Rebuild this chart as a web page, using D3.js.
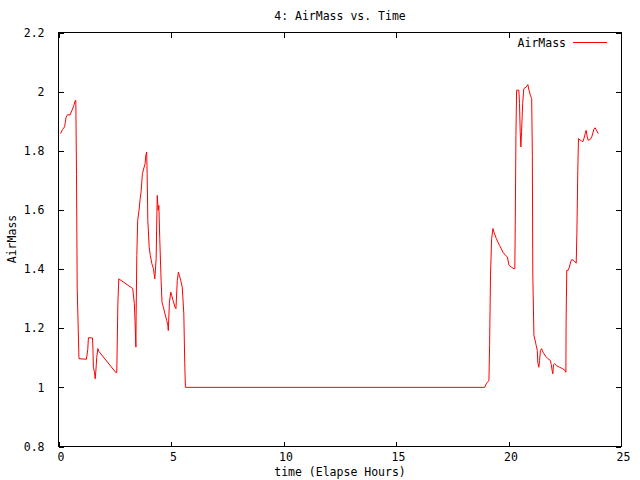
<!DOCTYPE html>
<html>
<head>
<meta charset="utf-8">
<script src="https://cdn.jsdelivr.net/npm/d3@7"></script>
<style>
  html, body { margin: 0; padding: 0; background: #fff; }
  text { font-family: "DejaVu Sans Mono", "Liberation Mono", monospace; font-size: 11.5px; fill: #000; }
</style>
</head>
<body>
<svg id="chart" width="640" height="480"></svg>
<script>
const title = "4: AirMass vs. Time";
const xLabel = "time (Elapse Hours)";
const yLabel = "AirMass";
const seriesName = "AirMass";
const xTicks = [0, 5, 10, 15, 20, 25];
const yTicks = [0.8, 1, 1.2, 1.4, 1.6, 1.8, 2, 2.2];

// time in elapsed hours
const timeHours = [
  0.09, 0.18, 0.27, 0.30, 0.34, 0.40, 0.51, 0.59, 0.68, 0.74, 0.77,
  0.80, 0.83, 0.91, 1.24, 1.30, 1.33, 1.51, 1.53, 1.55, 1.60, 1.63, 1.66, 1.70, 1.75, 1.79,
  2.56, 2.59, 2.64, 2.68, 3.30, 3.37, 3.40, 3.44, 3.45, 3.48, 3.52, 3.58, 3.63, 3.67, 3.73,
  3.85, 3.88, 3.92, 3.94, 3.97, 4.03, 4.08, 4.15, 4.22, 4.28, 4.34, 4.37, 4.39, 4.43, 4.46,
  4.50, 4.56, 4.60, 4.66, 4.73, 4.81, 4.86, 4.88, 4.93, 4.99, 5.03, 5.09, 5.18, 5.22, 5.28,
  5.33, 5.37, 5.43, 5.50, 5.57, 5.61, 5.64,
  18.94, 19.01, 19.09, 19.13, 19.16, 19.20, 19.25, 19.31, 19.35, 19.46, 19.53, 19.60, 19.68,
  19.75, 19.87, 19.95, 20.02, 20.12, 20.24, 20.28, 20.30, 20.33, 20.36, 20.46, 20.49, 20.52,
  20.55, 20.58, 20.63, 20.68, 20.79, 20.86, 20.91, 20.97, 21.03, 21.06, 21.08, 21.13, 21.20,
  21.23, 21.28, 21.30, 21.35, 21.38, 21.42, 21.47, 21.53, 21.65, 21.75, 21.86, 21.90, 21.94,
  21.97, 22.00, 22.05, 22.12, 22.27, 22.41, 22.52, 22.55, 22.56, 22.59, 22.65, 22.71, 22.76,
  22.81, 22.90, 22.96, 23.01, 23.04, 23.08, 23.11, 23.19, 23.25, 23.30, 23.35, 23.41, 23.45,
  23.50, 23.54, 23.63, 23.70, 23.75, 23.79, 23.85, 23.91, 23.99
];
const airMass = [
  1.858, 1.872, 1.881, 1.895, 1.914, 1.922, 1.921, 1.935, 1.953, 1.969, 1.971,
  1.720, 1.339, 1.097, 1.095, 1.128, 1.168, 1.167, 1.133, 1.068, 1.051, 1.029, 1.055, 1.102, 1.131, 1.122,
  1.049, 1.051, 1.288, 1.367, 1.334, 1.283, 1.226, 1.136, 1.243, 1.446, 1.565, 1.599, 1.638, 1.661, 1.723,
  1.757, 1.785, 1.796, 1.723, 1.565, 1.474, 1.446, 1.418, 1.401, 1.367, 1.435, 1.576, 1.649, 1.599, 1.615,
  1.503, 1.362, 1.288, 1.271, 1.249, 1.226, 1.209, 1.192, 1.288, 1.322, 1.311, 1.294, 1.271, 1.266, 1.362,
  1.390, 1.379, 1.362, 1.339, 1.249, 1.085, 1.000,
  1.000, 1.012, 1.020, 1.023, 1.142, 1.379, 1.503, 1.537, 1.525, 1.503, 1.491, 1.480, 1.469,
  1.457, 1.446, 1.441, 1.413, 1.407, 1.401, 1.401, 1.548, 1.852, 2.005, 2.005, 1.960, 1.864,
  1.813, 1.864, 1.960, 2.010, 2.016, 2.024, 2.005, 1.988, 1.977, 1.785, 1.379, 1.176, 1.153,
  1.142, 1.125, 1.085, 1.068, 1.091, 1.125, 1.131, 1.119, 1.105, 1.097, 1.091, 1.077, 1.057,
  1.046, 1.077, 1.080, 1.074, 1.068, 1.063, 1.057, 1.051, 1.221, 1.396, 1.396, 1.407, 1.424,
  1.432, 1.429, 1.424, 1.420, 1.525, 1.734, 1.841, 1.836, 1.834, 1.830, 1.841, 1.858, 1.869,
  1.847, 1.836, 1.838, 1.847, 1.860, 1.872, 1.878, 1.869, 1.858
];

const data = timeHours.map((t, i) => ({ t, v: airMass[i] }));

const svg = d3.select("#chart");
const L = 58.5, R = 621, T = 32.5, B = 446.5;

const x = d3.scaleLinear().domain([0, 25]).range([L, R]);
const y = d3.scaleLinear().domain([0.8, 2.2]).range([B, T]);

// frame
svg.append("rect")
  .attr("x", L).attr("y", T).attr("width", R - L).attr("height", B - T)
  .attr("fill", "none").attr("stroke", "#000").attr("stroke-width", 1)
  .attr("shape-rendering", "crispEdges");

const tickLen = 5;
// x ticks (bottom + mirrored top)
const xAxisB = d3.axisBottom(x).tickValues(xTicks).tickSize(-tickLen).tickPadding(12).tickFormat(d3.format("d"));
const gxb = svg.append("g").attr("transform", `translate(0,${B})`).call(xAxisB);
gxb.select(".domain").remove();
gxb.selectAll("line").attr("stroke", "#000").attr("shape-rendering", "crispEdges");
gxb.selectAll("text").attr("dx", 2).attr("dy", "0.2em").style("font-size", "11.5px").style("font-family", "DejaVu Sans Mono, monospace");

const xAxisT = d3.axisTop(x).tickValues(xTicks).tickSize(-tickLen).tickFormat("");
const gxt = svg.append("g").attr("transform", `translate(0,${T})`).call(xAxisT);
gxt.select(".domain").remove();
gxt.selectAll("line").attr("stroke", "#000").attr("shape-rendering", "crispEdges");

// y ticks (left + mirrored right)
const yAxisL = d3.axisLeft(y).tickValues(yTicks).tickSize(-tickLen).tickPadding(14).tickFormat(d => d3.format("")(+d.toFixed(1)));
const gyl = svg.append("g").attr("transform", `translate(${L},0)`).call(yAxisL);
gyl.select(".domain").remove();
gyl.selectAll("line").attr("stroke", "#000").attr("shape-rendering", "crispEdges");
gyl.selectAll("text").style("font-size", "11.5px").style("font-family", "DejaVu Sans Mono, monospace");

const yAxisR = d3.axisRight(y).tickValues(yTicks).tickSize(-tickLen).tickFormat("");
const gyr = svg.append("g").attr("transform", `translate(${R},0)`).call(yAxisR);
gyr.select(".domain").remove();
gyr.selectAll("line").attr("stroke", "#000").attr("shape-rendering", "crispEdges");

// line
const line = d3.line().x(d => x(d.t)).y(d => y(d.v));
svg.append("path").datum(data)
  .attr("d", line)
  .attr("fill", "none").attr("stroke", "#ff0000").attr("stroke-width", 1);

// title
svg.append("text").attr("x", 340).attr("y", 20).attr("text-anchor", "middle").text(title);
// x label
svg.append("text").attr("x", 340).attr("y", 476).attr("text-anchor", "middle").text(xLabel);
// y label
svg.append("text").attr("transform", "translate(16,239) rotate(-90)").attr("text-anchor", "middle").text(yLabel);

// legend
svg.append("text").attr("x", 566).attr("y", 47).attr("text-anchor", "end").text(seriesName);
svg.append("line").attr("x1", 573).attr("x2", 607).attr("y1", 42.5).attr("y2", 42.5)
  .attr("stroke", "#ff0000").attr("stroke-width", 1);
</script>
</body>
</html>
